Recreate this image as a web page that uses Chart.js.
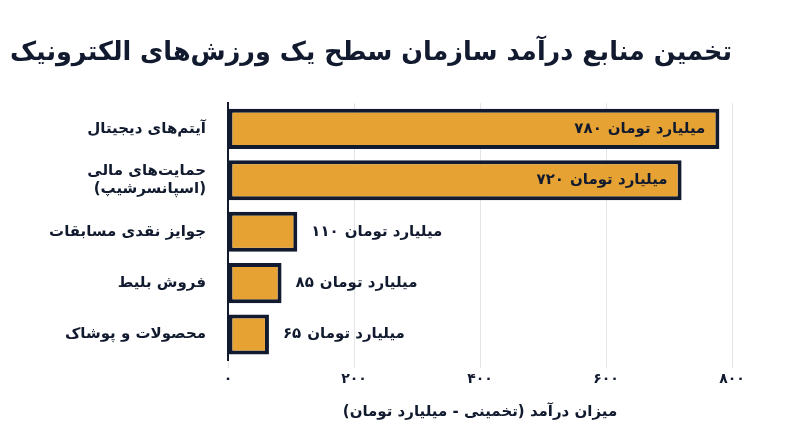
<!DOCTYPE html>
<html><head><meta charset="utf-8">
<script src="https://cdn.jsdelivr.net/npm/chart.js@4"></script>
<style>html,body{margin:0;background:#fff}#w{width:800px;height:447px}</style>
</head><body><div id="w"><canvas id="c"></canvas></div>
<script>
const title = 'تخمین منابع درآمد سازمان سطح یک ورزش‌های الکترونیک';
const categories = ['آیتم‌های دیجیتال', ['حمایت‌های مالی','(اسپانسرشیپ)'], 'جوایز نقدی مسابقات', 'فروش بلیط', 'محصولات و پوشاک'];
const values = [780, 720, 110, 85, 65];
const valueNumbers = ['۷۸۰','۷۲۰','۱۱۰','۸۵','۶۵'];
const unitText = 'میلیارد تومان';
const tickLabels = {0:'۰',200:'۲۰۰',400:'۴۰۰',600:'۶۰۰',800:'۸۰۰'};
const axisTitle = 'میزان درآمد (تخمینی - میلیارد تومان)';
const F = "'DejaVu Sans', sans-serif";
const labelPlugin = {id:'lbl', afterDatasetsDraw(ch){
  const ctx=ch.ctx, meta=ch.getDatasetMeta(0);
  ctx.save(); ctx.font='bold 15px '+F; ctx.fillStyle='#111a2e'; ctx.textBaseline='middle';
  const sp=6, uw=ctx.measureText(unitText).width;
  meta.data.forEach((b,i)=>{
    const nw=ctx.measureText(valueNumbers[i]).width;
    let left = values[i]>300 ? b.x-14-uw-sp-nw : b.x+14;
    ctx.textAlign='left';
    ctx.fillText(valueNumbers[i], left, b.y);
    ctx.fillText(unitText, left+nw+sp, b.y);
  }); ctx.restore();
}};
new Chart(document.getElementById('c'),{
  type:'bar',
  data:{labels:categories,datasets:[{data:values,backgroundColor:'#e6a232',borderColor:'#111a2e',borderWidth:4,borderSkipped:false,barPercentage:0.78,categoryPercentage:1}]},
  options:{indexAxis:'y',responsive:true,maintainAspectRatio:false,animation:false,
    layout:{padding:{left:10,right:68,top:0,bottom:22}},
    plugins:{legend:{display:false},tooltip:{enabled:false},
      title:{display:true,text:title,color:'#111a2e',font:{family:F,size:26,weight:'bold'},padding:{top:38,bottom:34}}},
    scales:{
      x:{min:0,max:800,ticks:{stepSize:200,color:'#111a2e',font:{family:F,size:14,weight:'bold'},callback:v=>tickLabels[v]??''},
        grid:{display:true,color:'#e4e4e4',drawTicks:true,tickLength:8},border:{display:false},
        title:{display:true,text:axisTitle,color:'#111a2e',font:{family:F,size:15,weight:'bold'},padding:{top:12}}},
      y:{afterFit(s){s.width=218;},ticks:{color:'#111a2e',font:{family:F,size:15,weight:'bold'},padding:14},
        grid:{display:false},border:{display:true,color:'#111a2e',width:2}}
    }},
  plugins:[labelPlugin]
});
</script></body></html>
